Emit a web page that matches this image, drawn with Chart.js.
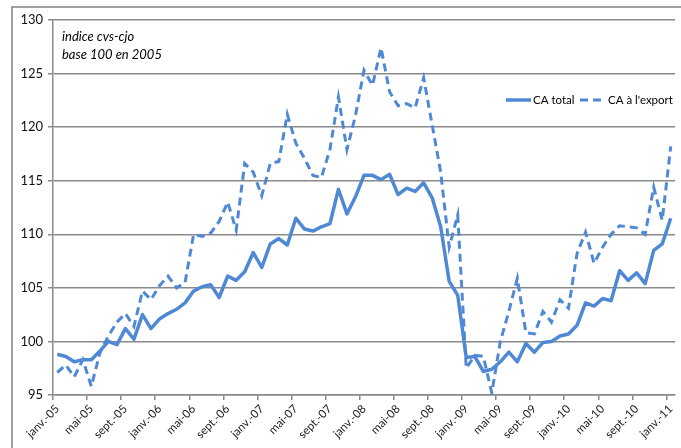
<!DOCTYPE html>
<html lang="fr">
<head>
<meta charset="utf-8">
<script src="https://cdn.jsdelivr.net/npm/chart.js@4.4.1/dist/chart.umd.min.js"></script>
<style>
html, body { margin: 0; padding: 0; background: #fff; }
#cadre { position: absolute; left: 11px; top: 6px; width: 720px; height: 480px;
         border-left: 2px solid #a0a0a0; border-top: 2px solid #a0a0a0; }
#zone { position: absolute; left: 0; top: 0; width: 681px; height: 448px; }
</style>
</head>
<body>
<div id="cadre"></div>
<div id="zone"><canvas id="graphique" width="681" height="448"></canvas></div>
<script>
// Mois et années (janv.-05 -> janv.-11)
const mois = ['janv.', 'févr.', 'mars', 'avr.', 'mai', 'juin', 'juil.', 'août', 'sept.', 'oct.', 'nov.', 'déc.'];
const annees = ['05', '06', '07', '08', '09', '10', '11'];

const categories = [];
annees.forEach((a) => {
    mois.forEach((m) => {
        if (categories.length < 73) categories.push(m + '-' + a);
    });
});

// Valeurs
const caTotal = [
    98.8, 98.6, 98.1, 98.3, 98.3, 99.1, 100.0, 99.7, 101.2, 100.2, 102.5, 101.2,
    102.1, 102.6, 103.0, 103.6, 104.7, 105.1, 105.3, 104.1, 106.1, 105.7, 106.5, 108.3,
    106.9, 109.1, 109.6, 109.0, 111.5, 110.5, 110.3, 110.7, 111.0, 114.2, 111.9, 113.5,
    115.5, 115.5, 115.1, 115.6, 113.7, 114.3, 114.0, 114.8, 113.4, 110.7, 105.6, 104.3,
    98.5, 98.6, 97.2, 97.4, 98.1, 99.0, 98.1, 99.8, 99.0, 99.9, 100.0, 100.5,
    100.7, 101.5, 103.6, 103.3, 104.0, 103.8, 106.6, 105.7, 106.4, 105.4, 108.5, 109.1,
    111.5
];

const caExport = [
    97.1, 97.8, 96.7, 98.3, 95.8, 98.9, 100.5, 101.8, 102.6, 101.4, 104.7, 103.9,
    105.2, 106.1, 105.0, 105.5, 110.0, 109.8, 110.1, 111.2, 113.0, 110.4, 116.6, 115.8,
    113.6, 116.6, 116.8, 121.2, 118.5, 117.1, 115.5, 115.3, 117.9, 122.8, 117.9, 121.1,
    125.3, 123.9, 127.4, 123.3, 122.0, 122.2, 121.8, 124.6, 120.2, 115.8, 108.8, 111.8,
    97.5, 98.7, 98.6, 95.2, 100.0, 102.8, 105.9, 100.8, 100.7, 102.8, 101.8, 103.9,
    103.1, 108.2, 110.2, 107.3, 108.8, 110.0, 110.8, 110.7, 110.6, 110.0, 114.4, 111.3,
    118.2
];

const nomsSeries = ['CA total', "CA à l'export"];
const noteLignes = ['indice cvs-cjo', 'base 100 en 2005'];

const bleu = '#4f89d6';
const gris = '#8a8a8a';
const police = 'Lato, "DejaVu Sans", sans-serif';

// Texte en haut à gauche + légende dans la zone du graphique
const textesPlugin = {
    id: 'textes',
    afterDraw(chart) {
        const ctx = chart.ctx;
        ctx.save();
        ctx.fillStyle = '#000';
        ctx.font = 'italic 13px ' + police;
        ctx.fillText(noteLignes[0], 62, 41);
        ctx.fillText(noteLignes[1], 62, 59);

        ctx.font = '11.5px ' + police;
        ctx.strokeStyle = bleu;
        ctx.lineWidth = 3.5;
        ctx.beginPath();
        ctx.moveTo(506, 100);
        ctx.lineTo(531, 100);
        ctx.stroke();
        ctx.fillText(nomsSeries[0], 533, 104);

        ctx.lineWidth = 3;
        ctx.setLineDash([8, 5]);
        ctx.beginPath();
        ctx.moveTo(580, 100);
        ctx.lineTo(605, 100);
        ctx.stroke();
        ctx.setLineDash([]);
        ctx.fillText(nomsSeries[1], 608, 104);
        ctx.restore();
    }
};

new Chart(document.getElementById('graphique'), {
    type: 'line',
    data: {
        labels: categories,
        datasets: [{
            label: nomsSeries[0],
            data: caTotal,
            borderColor: bleu,
            borderWidth: 3.5,
            pointRadius: 0,
            tension: 0,
            borderJoinStyle: 'round'
        }, {
            label: nomsSeries[1],
            data: caExport,
            borderColor: bleu,
            borderWidth: 3,
            borderDash: [8, 5],
            pointRadius: 0,
            tension: 0
        }]
    },
    options: {
        responsive: false,
        animation: false,
        layout: { padding: { top: 20, right: 6, left: 0, bottom: 0 } },
        plugins: {
            legend: { display: false },
            tooltip: { enabled: false }
        },
        scales: {
            x: {
                offset: true,
                grid: {
                    offset: true,
                    drawOnChartArea: false,
                    drawTicks: true,
                    tickLength: 5,
                    lineWidth: 1.5,
                    color: (c) => (c.index % 4 === 0 ? gris : 'rgba(0,0,0,0)')
                },
                border: { display: true, color: gris, width: 1.5 },
                ticks: {
                    autoSkip: false,
                    minRotation: 45,
                    maxRotation: 45,
                    padding: 2,
                    color: '#222',
                    font: { family: police, size: 11.5 },
                    callback: function (v, i) {
                        return i % 4 === 0 ? this.getLabelForValue(v) : '';
                    }
                },
                afterFit: (scale) => {
                    scale.height = 53;
                    scale.paddingLeft = 0;
                    scale.paddingRight = 0;
                }
            },
            y: {
                min: 95,
                max: 130,
                grid: {
                    color: gris,
                    lineWidth: 1.5,
                    drawTicks: true,
                    tickLength: 5
                },
                border: { display: true, color: gris, width: 1.5 },
                ticks: {
                    stepSize: 5,
                    padding: 5,
                    color: '#111',
                    font: { family: police, size: 13 }
                },
                afterFit: (scale) => {
                    scale.width = 53;
                }
            }
        }
    },
    plugins: [textesPlugin]
});
</script>
</body>
</html>
